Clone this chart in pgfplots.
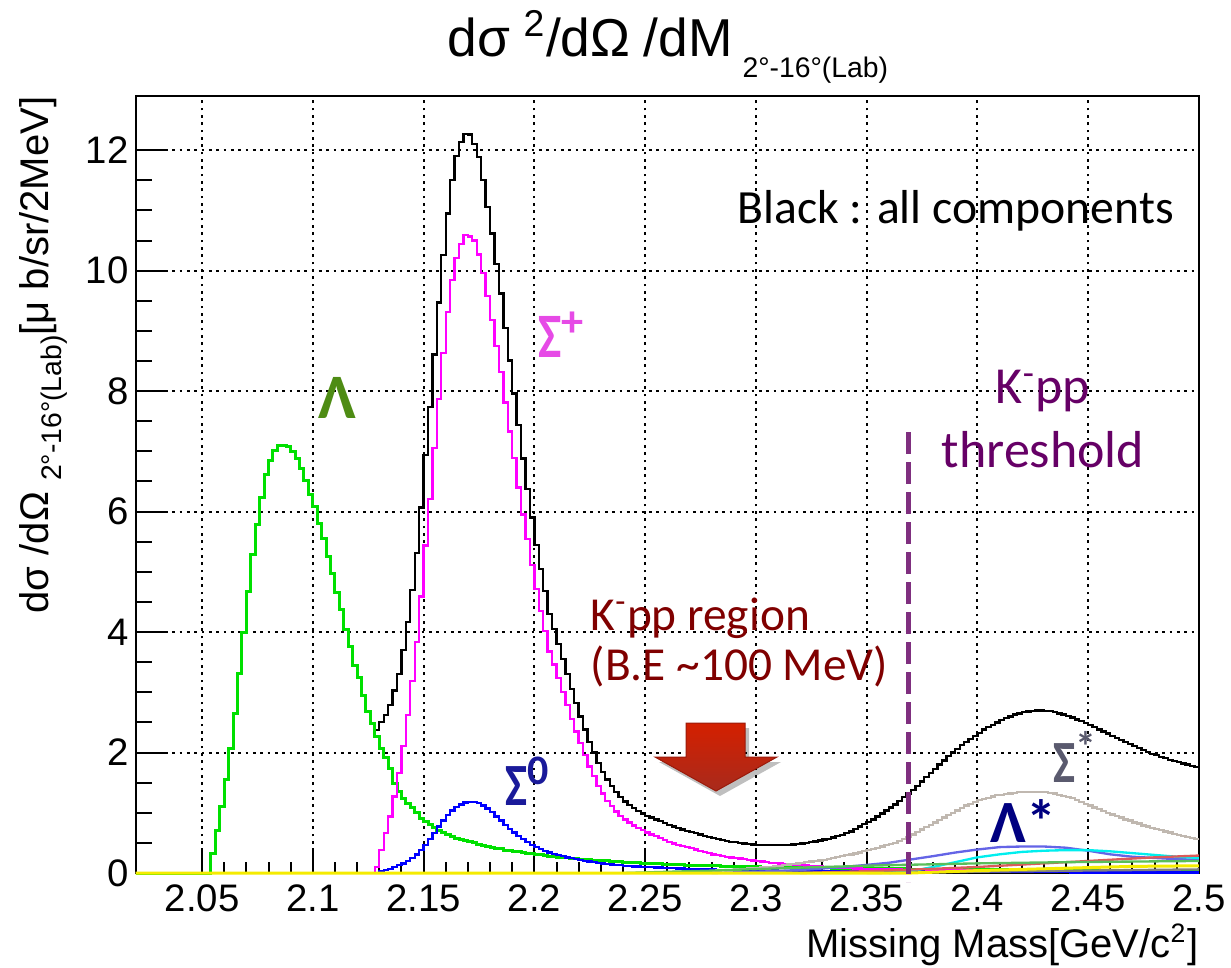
\documentclass[border=0pt]{standalone}
\usepackage{fontspec}
\setmainfont{Liberation Sans}
\newfontfamily\carl{Carlito}
\usepackage{graphicx}
\usepackage{pgfplots}
\pgfplotsset{compat=1.18}
\usepackage{pgfplotstable}

\definecolor{lamg}{HTML}{00E000}
\definecolor{sigp}{HTML}{FF00FF}
\definecolor{sigz}{HTML}{0000FF}
\definecolor{sigs}{HTML}{C0B8B0}
\definecolor{lamsv}{HTML}{6464E6}
\definecolor{cyn}{HTML}{00EEEE}
\definecolor{redc}{HTML}{DC5A5A}
\definecolor{grn2}{HTML}{5ABE5A}
\definecolor{yel}{HTML}{F5EB00}
\definecolor{dgr}{HTML}{808080}
\definecolor{labLam}{HTML}{4E8C14}
\definecolor{labSp}{HTML}{E64AE6}
\definecolor{labSz}{HTML}{1A1A9A}
\definecolor{labSs}{HTML}{5A5A6E}
\definecolor{labLs}{HTML}{000080}
\definecolor{kppr}{HTML}{800000}
\definecolor{kppt}{HTML}{660066}
\definecolor{dashc}{HTML}{7F2F7F}
\definecolor{arrtop}{HTML}{D42000}
\definecolor{arrbot}{HTML}{A82A1C}
\definecolor{arredge}{HTML}{9A1A0A}

\pgfplotstableread{
x blk lam sp s0 ss
2.020 0 0 0 0 0
2.022 0 0 0 0 0
2.024 0 0 0 0 0
2.026 0 0 0 0 0
2.028 0 0 0 0 0
2.030 0 0 0 0 0
2.032 0 0 0 0 0
2.034 0 0 0 0 0
2.036 0 0 0 0 0
2.038 0 0 0 0 0
2.040 0 0 0 0 0
2.042 0 0 0 0 0
2.044 0 0 0 0 0
2.046 0 0 0 0 0
2.048 0 0 0 0 0
2.050 0 0 0 0 0
2.052 0 0 0 0 0
2.054 0.33 0.33 0 0 0
2.056 0.71 0.71 0 0 0
2.058 1.10 1.10 0 0 0
2.060 1.56 1.56 0 0 0
2.062 2.07 2.07 0 0 0
2.064 2.64 2.64 0 0 0
2.066 3.31 3.31 0 0 0
2.068 4.00 4.00 0 0 0
2.070 4.67 4.67 0 0 0
2.072 5.28 5.28 0 0 0
2.074 5.79 5.79 0 0 0
2.076 6.23 6.23 0 0 0
2.078 6.61 6.61 0 0 0
2.080 6.85 6.85 0 0 0
2.082 7.01 7.01 0 0 0
2.084 7.09 7.09 0 0 0
2.086 7.10 7.10 0 0 0
2.088 7.08 7.08 0 0 0
2.090 6.99 6.99 0 0 0
2.092 6.89 6.89 0 0 0
2.094 6.72 6.72 0 0 0
2.096 6.52 6.52 0 0 0
2.098 6.29 6.29 0 0 0
2.100 6.08 6.08 0 0 0
2.102 5.81 5.81 0 0 0
2.104 5.56 5.56 0 0 0
2.106 5.26 5.26 0 0 0
2.108 4.98 4.98 0 0 0
2.110 4.65 4.65 0 0 0
2.112 4.37 4.37 0 0 0
2.114 4.05 4.05 0 0 0
2.116 3.76 3.76 0 0 0
2.118 3.45 3.45 0 0 0
2.120 3.24 3.24 0 0 0
2.122 2.94 2.94 0 0 0
2.124 2.68 2.68 0 0 0
2.126 2.49 2.49 0 0 0
2.128 2.37 2.26 0.10 0 0
2.130 2.51 2.07 0.38 0.03 0
2.132 2.62 1.91 0.66 0.05 0
2.134 2.79 1.74 0.94 0.07 0
2.136 3.03 1.49 1.27 0.10 0
2.138 3.30 1.35 1.66 0.13 0
2.140 3.70 1.24 2.11 0.16 0
2.142 4.17 1.16 2.62 0.20 0
2.144 4.70 1.08 3.19 0.25 0
2.146 5.31 1.00 3.84 0.31 0
2.148 6.07 0.91 4.59 0.38 0
2.150 6.94 0.85 5.44 0.46 0
2.152 7.74 0.80 6.21 0.56 0
2.154 8.61 0.75 7.06 0.66 0
2.156 9.47 0.70 7.87 0.77 0
2.158 10.26 0.67 8.63 0.87 0
2.160 10.95 0.64 9.31 0.96 0
2.162 11.50 0.61 9.84 1.04 0
2.164 11.90 0.58 10.21 1.10 0
2.166 12.14 0.56 10.44 1.14 0
2.168 12.27 0.54 10.59 1.17 0
2.170 12.26 0.52 10.57 1.18 0
2.172 12.10 0.50 10.50 1.18 0
2.174 11.89 0.48 10.27 1.16 0
2.176 11.50 0.46 9.96 1.12 0
2.178 11.06 0.44 9.58 1.07 0
2.180 10.62 0.43 9.18 1.01 0
2.182 10.11 0.41 8.75 0.94 0
2.184 9.62 0.40 8.32 0.87 0
2.186 9.05 0.38 7.81 0.80 0
2.188 8.51 0.37 7.33 0.73 0
2.190 7.96 0.36 6.89 0.67 0
2.192 7.44 0.35 6.40 0.61 0
2.194 6.88 0.34 5.95 0.56 0
2.196 6.38 0.33 5.54 0.51 0
2.198 5.90 0.32 5.11 0.47 0
2.200 5.45 0.31 4.71 0.43 0
2.202 5.05 0.30 4.35 0.40 0
2.204 4.68 0.29 4.02 0.37 0
2.206 4.30 0.28 3.68 0.34 0
2.208 4.05 0.27 3.46 0.32 0
2.210 3.80 0.265 3.24 0.30 0
2.212 3.55 0.26 3.01 0.28 0
2.214 3.30 0.25 2.79 0.26 0
2.216 3.05 0.245 2.56 0.245 0
2.218 2.82 0.24 2.35 0.23 0
2.220 2.60 0.23 2.16 0.215 0
2.222 2.38 0.225 1.96 0.20 0
2.224 2.18 0.22 1.77 0.19 0
2.226 2.00 0.215 1.61 0.18 0
2.228 1.83 0.21 1.45 0.17 0
2.230 1.68 0.205 1.32 0.16 0
2.232 1.55 0.20 1.20 0.15 0
2.234 1.44 0.195 1.11 0.14 0
2.236 1.34 0.19 1.02 0.135 0
2.238 1.26 0.185 0.95 0.13 0
2.240 1.19 0.18 0.89 0.12 0
2.242 1.13 0.176 0.84 0.115 0
2.244 1.08 0.172 0.79 0.11 0
2.246 1.03 0.168 0.75 0.106 0
2.248 0.99 0.164 0.71 0.102 0
2.250 0.95 0.16 0.67 0.098 0
2.252 0.92 0.157 0.64 0.095 0
2.254 0.89 0.154 0.61 0.092 0
2.256 0.86 0.151 0.58 0.089 0
2.258 0.83 0.148 0.55 0.086 0
2.260 0.80 0.145 0.52 0.083 0
2.262 0.77 0.142 0.49 0.080 0
2.264 0.75 0.139 0.47 0.077 0
2.266 0.72 0.136 0.45 0.074 0
2.268 0.70 0.133 0.43 0.071 0
2.270 0.68 0.130 0.41 0.068 0.010
2.272 0.66 0.128 0.39 0.065 0.015
2.274 0.64 0.126 0.37 0.062 0.020
2.276 0.62 0.124 0.35 0.060 0.025
2.278 0.60 0.122 0.33 0.058 0.030
2.280 0.58 0.120 0.31 0.056 0.035
2.282 0.565 0.118 0.30 0.054 0.040
2.284 0.55 0.116 0.28 0.052 0.045
2.286 0.535 0.114 0.27 0.050 0.050
2.288 0.52 0.112 0.26 0.048 0.055
2.290 0.51 0.110 0.25 0.046 0.060
2.292 0.50 0.108 0.24 0.045 0.065
2.294 0.49 0.106 0.23 0.044 0.070
2.296 0.48 0.104 0.22 0.043 0.075
2.298 0.475 0.102 0.21 0.042 0.080
2.300 0.47 0.100 0.20 0.041 0.085
2.302 0.465 0.099 0.19 0.040 0.090
2.304 0.46 0.098 0.18 0.040 0.100
2.306 0.46 0.097 0.17 0.039 0.105
2.308 0.46 0.096 0.165 0.039 0.110
2.310 0.46 0.095 0.16 0.038 0.120
2.312 0.465 0.094 0.15 0.038 0.130
2.314 0.47 0.093 0.145 0.037 0.140
2.316 0.475 0.092 0.14 0.037 0.150
2.318 0.48 0.091 0.135 0.036 0.160
2.320 0.49 0.090 0.13 0.036 0.170
2.322 0.50 0.089 0.125 0.035 0.180
2.324 0.51 0.088 0.12 0.035 0.190
2.326 0.525 0.087 0.115 0.034 0.200
2.328 0.54 0.086 0.11 0.034 0.210
2.330 0.555 0.085 0.105 0.033 0.220
2.332 0.57 0.084 0.10 0.033 0.235
2.334 0.59 0.083 0.095 0.032 0.250
2.336 0.61 0.082 0.09 0.032 0.265
2.338 0.635 0.081 0.085 0.031 0.280
2.340 0.66 0.080 0.08 0.031 0.295
2.342 0.69 0.079 0.078 0.030 0.310
2.344 0.73 0.078 0.076 0.030 0.325
2.346 0.77 0.077 0.074 0.030 0.340
2.348 0.81 0.076 0.072 0.029 0.360
2.350 0.85 0.075 0.070 0.029 0.380
2.352 0.89 0.074 0.068 0.028 0.400
2.354 0.94 0.073 0.066 0.028 0.420
2.356 0.99 0.072 0.064 0.027 0.440
2.358 1.04 0.071 0.062 0.027 0.460
2.360 1.09 0.070 0.060 0.026 0.480
2.362 1.14 0.069 0.058 0.026 0.500
2.364 1.20 0.068 0.056 0.025 0.530
2.366 1.26 0.067 0.054 0.025 0.560
2.368 1.32 0.066 0.052 0.024 0.600
2.370 1.38 0.065 0.050 0.024 0.640
2.372 1.45 0.064 0.049 0.023 0.680
2.374 1.52 0.063 0.048 0.023 0.720
2.376 1.59 0.062 0.047 0.022 0.760
2.378 1.66 0.061 0.046 0.022 0.800
2.380 1.73 0.060 0.045 0.021 0.840
2.382 1.80 0.060 0.044 0.021 0.880
2.384 1.87 0.059 0.043 0.020 0.920
2.386 1.94 0.059 0.042 0.020 0.960
2.388 2.00 0.058 0.041 0.020 1.000
2.390 2.06 0.058 0.040 0.019 1.040
2.392 2.12 0.057 0.040 0.019 1.080
2.394 2.18 0.057 0.039 0.019 1.120
2.396 2.23 0.056 0.039 0.018 1.150
2.398 2.28 0.056 0.038 0.018 1.180
2.400 2.33 0.055 0.038 0.018 1.210
2.402 2.38 0.055 0.037 0.017 1.230
2.404 2.42 0.054 0.037 0.017 1.250
2.406 2.46 0.054 0.036 0.017 1.270
2.408 2.50 0.053 0.036 0.016 1.290
2.410 2.54 0.053 0.035 0.016 1.300
2.412 2.57 0.052 0.035 0.016 1.310
2.414 2.60 0.052 0.034 0.015 1.320
2.416 2.63 0.051 0.034 0.015 1.330
2.418 2.65 0.051 0.033 0.015 1.340
2.420 2.67 0.050 0.033 0.014 1.345
2.422 2.68 0.050 0.032 0.014 1.350
2.424 2.69 0.050 0.032 0.014 1.350
2.426 2.70 0.049 0.031 0.013 1.350
2.428 2.70 0.049 0.031 0.013 1.345
2.430 2.695 0.049 0.030 0.013 1.340
2.432 2.685 0.048 0.030 0.013 1.330
2.434 2.67 0.048 0.030 0.012 1.320
2.436 2.65 0.048 0.029 0.012 1.300
2.438 2.63 0.047 0.029 0.012 1.280
2.440 2.605 0.047 0.029 0.012 1.260
2.442 2.58 0.047 0.028 0.011 1.240
2.444 2.55 0.046 0.028 0.011 1.210
2.446 2.52 0.046 0.028 0.011 1.180
2.448 2.49 0.046 0.027 0.011 1.150
2.450 2.455 0.045 0.027 0.011 1.120
2.452 2.42 0.045 0.027 0.010 1.090
2.454 2.385 0.045 0.026 0.010 1.060
2.456 2.35 0.044 0.026 0.010 1.030
2.458 2.315 0.044 0.026 0.010 1.000
2.460 2.28 0.044 0.025 0.010 0.970
2.462 2.245 0.043 0.025 0.010 0.950
2.464 2.21 0.043 0.025 0.010 0.920
2.466 2.175 0.043 0.024 0.010 0.890
2.468 2.14 0.042 0.024 0.010 0.870
2.470 2.105 0.042 0.024 0.010 0.840
2.472 2.07 0.042 0.023 0.010 0.820
2.474 2.04 0.041 0.023 0.010 0.790
2.476 2.01 0.041 0.023 0.010 0.770
2.478 1.98 0.041 0.022 0.010 0.750
2.480 1.955 0.040 0.022 0.010 0.730
2.482 1.93 0.040 0.022 0.010 0.710
2.484 1.905 0.040 0.021 0.010 0.690
2.486 1.88 0.040 0.021 0.010 0.670
2.488 1.86 0.040 0.021 0.010 0.650
2.490 1.84 0.040 0.020 0.010 0.630
2.492 1.82 0.040 0.020 0.010 0.610
2.494 1.80 0.040 0.020 0.010 0.600
2.496 1.78 0.040 0.020 0.010 0.580
2.498 1.76 0.040 0.020 0.010 0.560
2.500 1.76 0.040 0.020 0.010 0.560
}\hist

\begin{document}
\begin{tikzpicture}
\useasboundingbox (0pt,0pt) rectangle (369.3pt,290.1pt);

% x ticks only (shorter ROOT-style ticks)
\begin{axis}[
  at={(40.68pt,28.2pt)}, anchor=south west,
  scale only axis, width=319pt, height=233.1pt,
  xmin=2.02, xmax=2.5, ymin=0, ymax=12.9,
  axis line style={draw=none},
  ytick=\empty,
  xtick={2.05,2.1,2.15,2.2,2.25,2.3,2.35,2.4,2.45,2.5},
  xticklabels={},
  minor x tick num=4,
  tick pos=left, tick align=inside,
  major tick length=6.6pt, minor tick length=3.2pt,
  xtick style={black, line width=0.6pt},
]
\end{axis}

\begin{axis}[
  at={(40.68pt,28.2pt)}, anchor=south west,
  scale only axis, width=319pt, height=233.1pt,
  xmin=2.02, xmax=2.5, ymin=0, ymax=12.9,
  clip=false,
  axis line style={line width=0.6pt},
  xtick={2.05,2.1,2.15,2.2,2.25,2.3,2.35,2.4,2.45,2.5},
  xticklabels={2.05,2.1,2.15,2.2,2.25,2.3,2.35,2.4,2.45,2.5},
  ytick={0,2,4,6,8,10,12},
  minor y tick num=3,
  tick pos=left, tick align=inside,
  xtick style={draw=none},
  ytick style={black, line width=0.6pt},
  major tick length=9.3pt, minor tick length=4.8pt,
  xmajorgrids, ymajorgrids,
  major grid style={black, line width=0.6pt, dash pattern=on 0.8pt off 1.4pt},
  ticklabel style={font=\fontsize{11.5}{13}\selectfont},
  yticklabel style={xshift=1.4pt},
  /pgf/number format/assume math mode=true,
  every axis plot/.append style={line width=0.7pt},
]
\addplot[black, const plot] table[x=x,y=blk]{\hist};
\addplot[lamg, const plot, line width=0.9pt] table[x=x,y=lam]{\hist};
\addplot[sigp, const plot] table[x=x,y=sp]{\hist};
\addplot[sigz, const plot] table[x=x,y=s0]{\hist};
\addplot[sigs, const plot] table[x=x,y=ss]{\hist};
\addplot[lamsv, sharp plot] coordinates {(2.28,0) (2.30,0.02) (2.32,0.05) (2.34,0.10) (2.36,0.17) (2.38,0.28) (2.39,0.34) (2.40,0.39) (2.41,0.43) (2.42,0.44) (2.43,0.44) (2.44,0.42) (2.45,0.37) (2.46,0.31) (2.47,0.27) (2.48,0.25) (2.49,0.23) (2.50,0.22)};
\addplot[cyn, sharp plot] coordinates {(2.36,0) (2.37,0.03) (2.38,0.10) (2.39,0.18) (2.40,0.26) (2.41,0.31) (2.42,0.35) (2.43,0.37) (2.44,0.38) (2.45,0.38) (2.46,0.36) (2.47,0.33) (2.48,0.30) (2.49,0.27) (2.50,0.25)};
\addplot[redc, sharp plot] coordinates {(2.32,0) (2.35,0.03) (2.38,0.07) (2.40,0.10) (2.42,0.14) (2.44,0.18) (2.46,0.22) (2.48,0.26) (2.50,0.29)};
\addplot[grn2, sharp plot] coordinates {(2.24,0) (2.28,0.04) (2.32,0.09) (2.36,0.13) (2.40,0.16) (2.44,0.18) (2.50,0.20)};
\addplot[dgr, sharp plot] coordinates {(2.35,0) (2.42,0.03) (2.50,0.06)};
\addplot[yel, sharp plot, line width=0.9pt] coordinates {(2.02,0) (2.37,0) (2.40,0.04) (2.44,0.08) (2.47,0.11) (2.50,0.12)};
\end{axis}

% axis texts
\node[anchor=base west, inner sep=0pt, font=\fontsize{16}{18}\selectfont] at (134.1pt,273pt)
  {dσ\hspace{4pt}\textsuperscript{2}/dΩ\hspace{4pt}/dM\hspace{3pt}\raisebox{-6pt}{\fontsize{8.5}{10}\selectfont 2°-16°(Lab)}};
\node[rotate=90, anchor=base east, inner sep=0pt, font=\fontsize{12}{14}\selectfont] at (14.7pt,261.3pt)
  {dσ /dΩ \raisebox{-3.6pt}{\fontsize{8.5}{10}\selectfont 2°-16°(Lab)}[μ b/sr/2MeV]};
\node[anchor=base east, inner sep=0pt, font=\fontsize{12}{14}\selectfont] at (359.7pt,3pt)
  {Missing Mass[GeV/c\textsuperscript{2}]};

% annotations
\node[anchor=base west, inner sep=0pt, font=\carl\fontsize{14.3}{17}\selectfont] at (221.1pt,223.2pt) {Black : all components};
\node[anchor=base, inner sep=0pt, text=kppt, font=\carl\fontsize{15.6}{18}\selectfont] at (312.9pt,169.2pt) {K\textsuperscript{-}pp};
\node[anchor=base, inner sep=0pt, text=kppt, font=\carl\fontsize{15.6}{18}\selectfont] at (312.9pt,150pt) {threshold};
\node[anchor=base west, inner sep=0pt, text=kppr, font=\carl\fontsize{14.2}{17}\selectfont] at (177pt,101.1pt) {K\textsuperscript{-}pp region};
\node[anchor=base west, inner sep=0pt, text=kppr, font=\carl\fontsize{14.2}{17}\selectfont] at (177pt,86.1pt) {(B.E \textasciitilde100 MeV)};

\node[anchor=base west, inner sep=0pt, text=labLam, font=\carl\bfseries\fontsize{19}{22}\selectfont] at (95.4pt,164.7pt) {Λ};
\node[anchor=base west, inner sep=0pt, text=labSp, font=\carl\bfseries\fontsize{19}{22}\selectfont] at (161.4pt,183pt) {\scalebox{0.78}[1]{Σ}\textsuperscript{+}};
\node[anchor=base west, inner sep=0pt, text=labSz, font=\carl\bfseries\fontsize{18}{22}\selectfont] at (151.5pt,48.6pt) {\scalebox{0.78}[1]{Σ}\textsuperscript{0}};
\node[anchor=base west, inner sep=0pt, text=labSs, font=\carl\bfseries\fontsize{18}{22}\selectfont] at (315.9pt,55.5pt) {\scalebox{0.78}[1]{Σ}\textsuperscript{*}};
\node[anchor=base west, inner sep=0pt, text=labLs, font=\carl\bfseries\fontsize{18}{22}\selectfont] at (297pt,37.5pt) {Λ*};

% threshold line
\draw[dashc, line width=1.5pt, dash pattern=on 6.6pt off 2.4pt] (272.4pt,160.5pt) -- (272.4pt,25.5pt);

% arrow
\fill[black, opacity=0.25] (207pt,71.7pt) -- (224.7pt,71.7pt) -- (224.7pt,61.5pt) -- (234.3pt,61.5pt) -- (216pt,51.3pt) -- (197.7pt,61.5pt) -- (207pt,61.5pt) -- cycle;
\shade[top color=arrtop, bottom color=arrbot, draw=arredge, line width=0.3pt] (205.8pt,73.2pt) -- (223.5pt,73.2pt) -- (223.5pt,63pt) -- (233.1pt,63pt) -- (214.8pt,52.8pt) -- (196.5pt,63pt) -- (205.8pt,63pt) -- cycle;
\end{tikzpicture}
\end{document}
